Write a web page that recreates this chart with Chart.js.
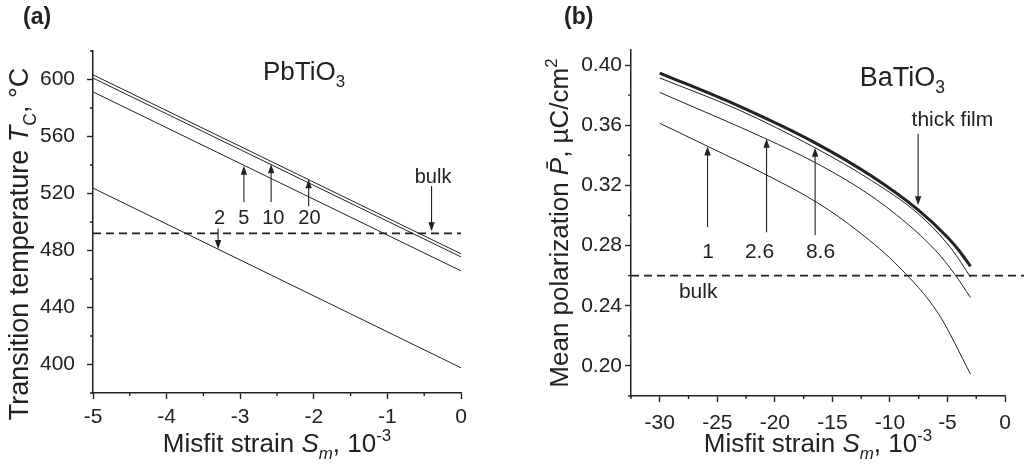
<!DOCTYPE html>
<html lang="en">
<head>
  <meta charset="UTF-8">
  <title>Misfit strain: PbTiO3 and BaTiO3</title>
  <script src="https://cdn.jsdelivr.net/npm/chart.js"></script>
  <style>
    body { margin: 0; background: #fff; }
    .wrap { position: relative; width: 1024px; height: 475px; }
    .panel { position: absolute; top: 0; width: 512px; height: 475px; }
  </style>
</head>
<body>
  <div class="wrap">
    <div class="panel" style="left:0"><canvas id="chartA" width="512" height="475"></canvas></div>
    <div class="panel" style="left:512px"><canvas id="chartB" width="512" height="475"></canvas></div>
  </div>

  <script>
    // ---- panel (a): PbTiO3, transition temperature vs misfit strain ----
    const strainA = [-5, 0];
    const tcH2 = [523.8, 397.7];
    const tcH5 = [591.3, 465.7];
    const tcH10 = [601.0, 475.5];
    const tcH20 = [603.3, 477.7];
    const tcBulk = 492;
    const xTicksA = [-5, -4, -3, -2, -1, 0];
    const xMinorA = [-4.5, -3.5, -2.5, -1.5, -0.5];
    const yTicksA = [400, 440, 480, 520, 560, 600];
    const yMinorA = [380, 420, 460, 500, 540, 580, 620];
    const labelsA = ['2', '5', '10', '20'];

    // ---- panel (b): BaTiO3, mean polarization vs misfit strain ----
    const strainThick = [-30, -23.2, -16.5, -11.6, -7.6, -5, -4, -3];
    const polThick = [0.3947, 0.373, 0.3483, 0.3262, 0.304, 0.2855, 0.2767, 0.2662];
    const strain86 = [-30, -23.2, -16.5, -11.6, -7.6, -5, -4, -3];
    const pol86 = [0.3914, 0.3704, 0.345, 0.3232, 0.3015, 0.2812, 0.2708, 0.259];
    const strain26 = [-30, -25, -20.75, -16.5, -12, -8.6, -6, -4.4, -3];
    const pol26 = [0.3818, 0.3653, 0.3509, 0.3352, 0.3149, 0.2952, 0.2765, 0.2613, 0.2455];
    const strain1 = [-30, -25.9, -20.75, -16.3, -12.6, -9.2, -5.8, -3];
    const pol1 = [0.3613, 0.3462, 0.327, 0.3085, 0.2885, 0.2657, 0.2349, 0.1946];
    const polBulk = 0.26;
    const xTicksB = [-30, -25, -20, -15, -10, -5, 0];
    const xMinorB = [-32.5, -27.5, -22.5, -17.5, -12.5, -7.5, -2.5];
    const yTicksB = [0.20, 0.24, 0.28, 0.32, 0.36, 0.40];
    const yMinorB = [0.18, 0.22, 0.26, 0.30, 0.34, 0.38];
    const labelsB = ['1', '2.6', '8.6'];

    const INK = '#222';
    const FONT = '"Liberation Sans", Arial, sans-serif';
    Chart.defaults.font.family = FONT;
    Chart.defaults.color = INK;

    const pts = (xs, ys) => xs.map((x, i) => ({ x, y: ys[i] }));

    function line(data, width) {
      return {
        data, borderColor: INK, borderWidth: width || 1, pointRadius: 0,
        fill: false, cubicInterpolationMode: 'monotone'
      };
    }

    function dashed(data) {
      return { data, borderColor: INK, borderWidth: 1.6, borderDash: [8, 5], pointRadius: 0, fill: false, clip: false };
    }

    // text with italic / sub / sup parts: [[text, style], ...]
    function richText(ctx, parts, x, y, size, align) {
      const fontFor = st => {
        const s = (st === 'sub' || st === 'sup' || st === 'isub') ? size * 0.65 : size;
        const it = (st === 'i' || st === 'isub') ? 'italic ' : '';
        return it + s + 'px ' + FONT;
      };
      let total = 0;
      parts.forEach(p => { ctx.font = fontFor(p[1]); total += ctx.measureText(p[0]).width; });
      let cx = align === 'center' ? x - total / 2 : x;
      ctx.textAlign = 'left';
      ctx.textBaseline = 'alphabetic';
      parts.forEach(p => {
        ctx.font = fontFor(p[1]);
        let dy = 0;
        if (p[1] === 'sub' || p[1] === 'isub') dy = size * 0.28;
        if (p[1] === 'sup') dy = -size * 0.42;
        ctx.fillText(p[0], cx, y + dy);
        cx += ctx.measureText(p[0]).width;
      });
    }

    function arrow(ctx, x0, y0, x1, y1) {
      const ang = Math.atan2(y1 - y0, x1 - x0);
      const hl = 9, hw = 3.2;
      ctx.beginPath();
      ctx.moveTo(x0, y0);
      ctx.lineTo(x1 - Math.cos(ang) * hl * 0.8, y1 - Math.sin(ang) * hl * 0.8);
      ctx.stroke();
      ctx.beginPath();
      ctx.moveTo(x1, y1);
      ctx.lineTo(x1 - Math.cos(ang) * hl - Math.sin(ang) * hw, y1 - Math.sin(ang) * hl + Math.cos(ang) * hw);
      ctx.lineTo(x1 - Math.cos(ang) * hl + Math.sin(ang) * hw, y1 - Math.sin(ang) * hl - Math.cos(ang) * hw);
      ctx.closePath();
      ctx.fill();
    }

    // minor ticks, arrows, labels and axis titles
    const decor = {
      id: 'decor',
      afterDraw(chart, args, o) {
        const ctx = chart.ctx, xs = chart.scales.x, ys = chart.scales.y;
        const X = v => xs.getPixelForValue(v), Y = v => ys.getPixelForValue(v);
        const a = chart.chartArea;
        ctx.save();
        ctx.strokeStyle = INK; ctx.fillStyle = INK; ctx.lineWidth = 1.4;
        ctx.beginPath();
        o.xMinor.forEach(v => { ctx.moveTo(X(v), a.bottom); ctx.lineTo(X(v), a.bottom + 3); });
        o.yMinor.forEach(v => { ctx.moveTo(a.left, Y(v)); ctx.lineTo(a.left - 3, Y(v)); });
        ctx.stroke();

        ctx.lineWidth = 1.1;
        o.arrows.forEach(r => arrow(ctx, X(r[0]), Y(r[1]), X(r[0]), Y(r[2])));

        o.labels.forEach(l => {
          ctx.font = l[3] + 'px ' + FONT;
          ctx.textAlign = l[4] || 'center';
          ctx.textBaseline = 'alphabetic';
          ctx.fillText(l[0], X(l[1]), Y(l[2]));
        });

        o.formula.forEach(f => richText(ctx, f.parts, X(f.x), Y(f.y), f.size, 'left'));

        ctx.font = 'bold 23px ' + FONT;
        ctx.textAlign = 'left';
        ctx.fillText(o.tag[0], o.tag[1], 24);

        richText(ctx, o.xTitle, (a.left + a.right) / 2, 452, 26, 'center');
        ctx.translate(o.yTitle.x, o.yTitle.y);
        ctx.rotate(-Math.PI / 2);
        richText(ctx, o.yTitle.parts, 0, 0, o.yTitle.size, 'center');
        ctx.restore();
      }
    };

    function axes(xMin, xMax, yMin, yMax, xT, yT, yW, xH, yFmt, yPad, xPad) {
      const common = {
        type: 'linear',
        grid: { drawOnChartArea: false, tickLength: 6, tickColor: INK, tickWidth: 1.4 },
        border: { color: INK, width: 1.5 }
      };
      return {
        x: Object.assign({}, common, {
          min: xMin, max: xMax,
          afterBuildTicks: s => { s.ticks = xT.map(v => ({ value: v })); },
          afterFit: s => { s.height = xH; },
          ticks: { font: { size: 21 }, padding: xPad, maxRotation: 0, autoSkip: false, callback: v => String(v) }
        }),
        y: Object.assign({}, common, {
          min: yMin, max: yMax,
          afterBuildTicks: s => { s.ticks = yT.map(v => ({ value: v })); },
          afterFit: s => { s.width = yW; },
          ticks: { font: { size: 21 }, padding: yPad, autoSkip: false, callback: yFmt }
        })
      };
    }

    new Chart(document.getElementById('chartA'), {
      type: 'line',
      data: {
        datasets: [
          line(pts(strainA, tcH2)),
          line(pts(strainA, tcH5)),
          line(pts(strainA, tcH10)),
          line(pts(strainA, tcH20)),
          dashed([{ x: -5, y: tcBulk }, { x: 0, y: tcBulk }])
        ]
      },
      options: {
        responsive: false, animation: false, events: [],
        layout: { padding: { left: 0, right: 51, top: 51, bottom: 0 } },
        plugins: {
          legend: { display: false }, tooltip: { enabled: false },
          decor: {
            xMinor: xMinorA, yMinor: yMinorA,
            arrows: [[-3.3, 495.5, 481], [-2.95, 514, 539.5], [-2.58, 514, 540.5], [-2.07, 511, 530], [-0.4, 525.2, 493.5]],
            labels: [
              [labelsA[0], -3.28, 498.4, 20], [labelsA[1], -2.95, 498.4, 20],
              [labelsA[2], -2.55, 498.4, 20], [labelsA[3], -2.06, 498.4, 20],
              ['bulk', -0.38, 527.3, 20]
            ],
            formula: [{ parts: [['PbTiO', ''], ['3', 'sub']], x: -2.69, y: 600, size: 26 }],
            tag: ['(a)', 23],
            xTitle: [['Misfit strain ', ''], ['S', 'i'], ['m', 'isub'], [', 10', ''], ['-3', 'sup']],
            yTitle: { x: 28, y: 244, size: 27, parts: [['Transition temperature ', ''], ['T', 'i'], ['C', 'sub'], [', \u00B0C', '']] }
          }
        },
        scales: axes(-5, 0, 380, 620, xTicksA, yTicksA, 93, 82, v => String(v), 12, 6)
      },
      plugins: [decor]
    });

    new Chart(document.getElementById('chartB'), {
      type: 'line',
      data: {
        datasets: [
          line(pts(strainThick, polThick), 3),
          line(pts(strain86, pol86)),
          line(pts(strain26, pol26)),
          line(pts(strain1, pol1)),
          dashed([{ x: -32.5, y: polBulk }, { x: 1.7, y: polBulk }])
        ]
      },
      options: {
        responsive: false, animation: false, events: [],
        layout: { padding: { left: 0, right: 19, top: 50, bottom: 0 } },
        plugins: {
          legend: { display: false }, tooltip: { enabled: false },
          decor: {
            xMinor: xMinorB, yMinor: yMinorB,
            arrows: [[-25.85, 0.2923, 0.3458], [-20.72, 0.2889, 0.351], [-16.5, 0.2868, 0.345], [-7.55, 0.3544, 0.3068]],
            labels: [
              [labelsB[0], -25.8, 0.2715, 21], [labelsB[1], -21.33, 0.2715, 21],
              [labelsB[2], -16.03, 0.2715, 21], ['bulk', -26.66, 0.245, 21],
              ['thick film', -8.12, 0.3597, 21, 'left']
            ],
            formula: [{ parts: [['BaTiO', ''], ['3', 'sub']], x: -12.63, y: 0.3863, size: 27 }],
            tag: ['(b)', 52],
            xTitle: [['Misfit strain ', ''], ['S', 'i'], ['m', 'isub'], [', 10', ''], ['-3', 'sup']],
            yTitle: { x: 56, y: 223, size: 26, parts: [['Mean polarization ', ''], ['P\u0304', 'i'], [', \u00B5C/cm', ''], ['2', 'sup']] }
          }
        },
        scales: axes(-32.5, 0, 0.18, 0.41, xTicksB, yTicksB, 119, 79, v => v.toFixed(2), 3, 9)
      },
      plugins: [decor]
    });
  </script>
</body>
</html>
